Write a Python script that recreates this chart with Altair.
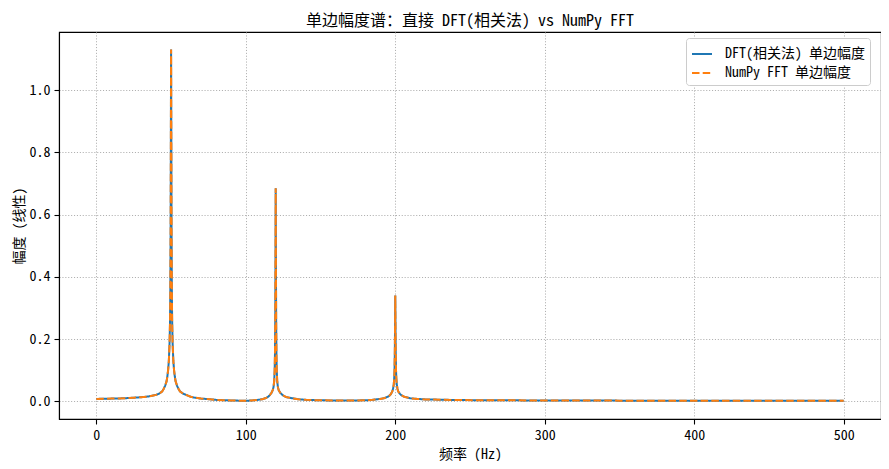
import altair as alt
import pandas as pd

freq = [0, 5, 10, 15, 20, 25, 30, 35, 38, 40, 42, 44, 45, 46, 47, 47.5, 48, 48.5, 49, 49.3, 49.5, 49.7, 49.85,
        50, 50.15, 50.3, 50.5, 50.7, 51, 51.5, 52, 52.5, 53, 54, 55, 56, 58, 60, 63, 66, 70, 76, 80, 85, 90, 95,
        100, 104, 108, 111, 113, 115, 116, 117, 118, 118.5, 119, 119.3, 119.5, 119.7, 119.85,
        120, 120.15, 120.3, 120.5, 120.7, 121, 121.5, 122, 123, 124, 125, 127, 130, 135, 140, 150, 160, 170,
        180, 185, 190, 193, 195, 196, 197, 198, 198.5, 199, 199.3, 199.5, 199.7, 199.85,
        200, 200.15, 200.3, 200.5, 200.7, 201, 201.5, 202, 203, 204, 206, 210, 215, 220, 230, 240, 260,
        300, 350, 400, 450, 500]
amp = [0.008, 0.0085, 0.009, 0.0095, 0.0105, 0.012, 0.0135, 0.016, 0.019, 0.021, 0.025, 0.032, 0.040, 0.050,
       0.065, 0.080, 0.10, 0.13, 0.19, 0.26, 0.36, 0.55, 0.85,
       1.13, 0.85, 0.55, 0.36, 0.26, 0.19, 0.13, 0.10, 0.080, 0.065, 0.050, 0.040, 0.032, 0.025, 0.021, 0.015,
       0.012, 0.009, 0.007, 0.005, 0.004, 0.003, 0.0025,
       0.002, 0.003, 0.005, 0.007, 0.010, 0.015, 0.020, 0.026, 0.036, 0.045, 0.065, 0.10, 0.15, 0.26, 0.45,
       0.685, 0.45, 0.26, 0.15, 0.10, 0.065, 0.045, 0.036, 0.028, 0.023, 0.019, 0.014, 0.011, 0.007, 0.005,
       0.0035, 0.003, 0.003,
       0.0035, 0.005, 0.008, 0.011, 0.015, 0.018, 0.023, 0.032, 0.040, 0.055, 0.075, 0.10, 0.16, 0.24,
       0.34, 0.24, 0.16, 0.10, 0.075, 0.055, 0.040, 0.032, 0.025, 0.020, 0.015, 0.010, 0.008, 0.0065, 0.0055,
       0.0045, 0.0038, 0.003, 0.0025, 0.0022, 0.002, 0.0018]

series = ["DFT(相关法) 单边幅度", "NumPy FFT 单边幅度"]
colors = ["#1f77b4", "#ff7f0e"]
dashes = [[1, 0], [7.5, 3.2]]
x_ticks = [0, 100, 200, 300, 400, 500]
y_ticks = [0, 0.2, 0.4, 0.6, 0.8, 1.0]

df = pd.concat([
    pd.DataFrame({"freq": freq, "amp": amp, "series": s}) for s in series
], ignore_index=True)

FONT = "Noto Sans Mono CJK SC, DejaVu Sans Mono, Noto Sans CJK SC"

x = alt.X("freq:Q", scale=alt.Scale(domain=[-25, 525], nice=False, zero=False),
          axis=alt.Axis(title="频率 (Hz)", values=x_ticks, format="d"))
y = alt.Y("amp:Q", scale=alt.Scale(domain=[-0.0565, 1.1865], nice=False, zero=False),
          axis=alt.Axis(title="幅度 (线性)", values=y_ticks, format=".1f", titlePadding=3))
legend = alt.Legend(title=None, orient="none", legendX=627, legendY=6,
                    symbolType="stroke", symbolSize=400, symbolStrokeWidth=2,
                    labelFontSize=14, labelFont=FONT, labelColor="black", rowPadding=1,
                    strokeColor="#cccccc", fillColor="white", padding=5,
                    cornerRadius=3, labelOffset=12)
color = alt.Color("series:N", scale=alt.Scale(domain=series, range=colors), legend=legend)
dash = alt.StrokeDash("series:N", scale=alt.Scale(domain=series, range=dashes), legend=legend)

layers = []
for s in series:
    layers.append(
        alt.Chart(df).transform_filter(alt.datum.series == s)
        .mark_line(strokeWidth=2, clip=True)
        .encode(x=x, y=y, color=color, strokeDash=dash)
    )

chart = alt.layer(*layers).properties(
    width=822, height=387,
    title=alt.TitleParams("单边幅度谱：直接 DFT(相关法) vs NumPy FFT", fontSize=16, font=FONT,
                          fontWeight="normal", offset=3, anchor="middle", color="black"),
    autosize=alt.AutoSizeParams(type="none"),
    padding={"left": 51, "top": 24, "right": 0, "bottom": 42},
).configure_view(stroke="black", strokeWidth=1.1).configure_axis(
    grid=True, gridColor="#b0b0b0", gridDash=[1.1, 1.8], gridWidth=1,
    domainColor="black", domainWidth=1.1, tickColor="black", tickSize=5, tickWidth=1.1,
    labelFont=FONT, labelFontSize=14, labelColor="black", labelPadding=4,
    titleFont=FONT, titleFontSize=14, titleFontWeight="normal", titleColor="black", titlePadding=5,
)

chart.save("out.html", embed_options={"renderer": "svg", "actions": False})
